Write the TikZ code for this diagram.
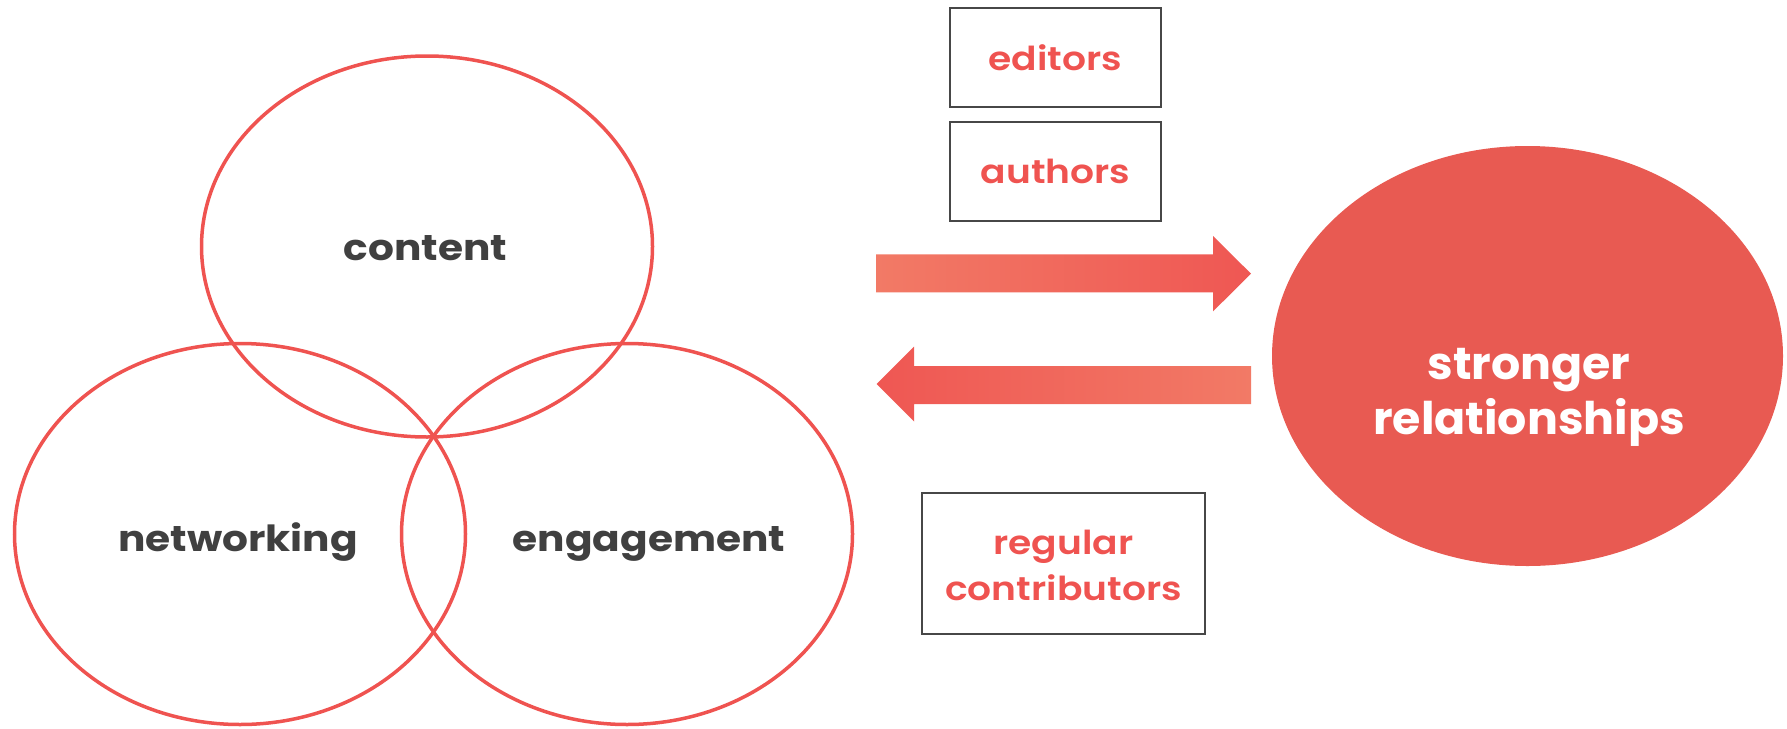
\documentclass[tikz,border=0pt]{standalone}
\usepackage{fontspec}
\setmainfont{Poppins}
\newfontfamily\headfont{Poppins}[UprightFont=* Bold, FakeStretch=1.13]
\newfontfamily\bigfont{Poppins}[UprightFont=* Bold, FakeStretch=1.02]
\newfontfamily\boxfont{Poppins SemiBold}[FakeStretch=1.14]
\usetikzlibrary{shapes.geometric}
\definecolor{venn}{HTML}{EF5350}
\definecolor{bigred}{HTML}{E85A52}
\definecolor{darktext}{HTML}{404040}
\definecolor{boxline}{HTML}{474747}
\definecolor{arrowlight}{HTML}{F27A66}
\definecolor{arrowdark}{HTML}{EF5753}
\tikzset{
  vennring/.style={ellipse, draw=venn, line width=3.5pt, minimum width=451pt, minimum height=381pt, inner sep=0pt},
  headlabel/.style={anchor=base, text=darktext, font=\headfont\fontsize{36}{40}\selectfont, inner sep=0pt},
  rolebox/.style={draw=boxline, line width=2pt, inner sep=0pt},
  roletext/.style={text=venn, font=\boxfont\fontsize{33}{46}\selectfont, align=center, inner sep=0pt},
}
\begin{document}
\begin{tikzpicture}[x=1pt,y=-1pt]
\useasboundingbox (0,0) rectangle (1787,728);
% Venn rings
\node[vennring] (content) at (427,246.5) {};
\node[vennring] (networking) at (240,534) {};
\node[vennring] (engagement) at (627,534) {};
\node[headlabel] (contentlbl) at (425.5,260) {content};
\node[headlabel] (netlbl) at (238,551) {networking};
\node[headlabel] (englbl) at (649,551) {engagement};
% big ellipse
\node[ellipse, fill=bigred, minimum width=511pt, minimum height=420pt, inner sep=0pt] (strong) at (1527.5,356) {};
\node[text=white, font=\bigfont\fontsize{45}{55}\selectfont, align=center, inner sep=0pt] (stronglbl) at (1529,397) {stronger\\relationships};
% role boxes
\draw[rolebox] (950,8) rectangle (1161,107);
\coordinate (edc) at (1055.5,57.5);
\node[roletext] (editors) at (edc) {editors};
\draw[rolebox] (950,122) rectangle (1161,221);
\coordinate (auc) at (1055.5,171.5);
\node[roletext] (authors) at (auc) {authors};
\draw[rolebox] (922,493) rectangle (1205,634);
\coordinate (rcc) at (1063.5,565);
\node[roletext] (regular) at (rcc) {regular\\contributors};
% block arrows
\shade[left color=arrowlight, right color=arrowdark]
  (876,254.3) -- (1213,254.3) -- (1213,236) -- (1251,273.7) -- (1213,311.4) -- (1213,292.3) -- (876,292.3) -- cycle;
\shade[left color=arrowdark, right color=arrowlight]
  (1251,366) -- (914,366) -- (914,346.5) -- (876.5,384) -- (914,421.5) -- (914,404) -- (1251,404) -- cycle;
\end{tikzpicture}
\end{document}
